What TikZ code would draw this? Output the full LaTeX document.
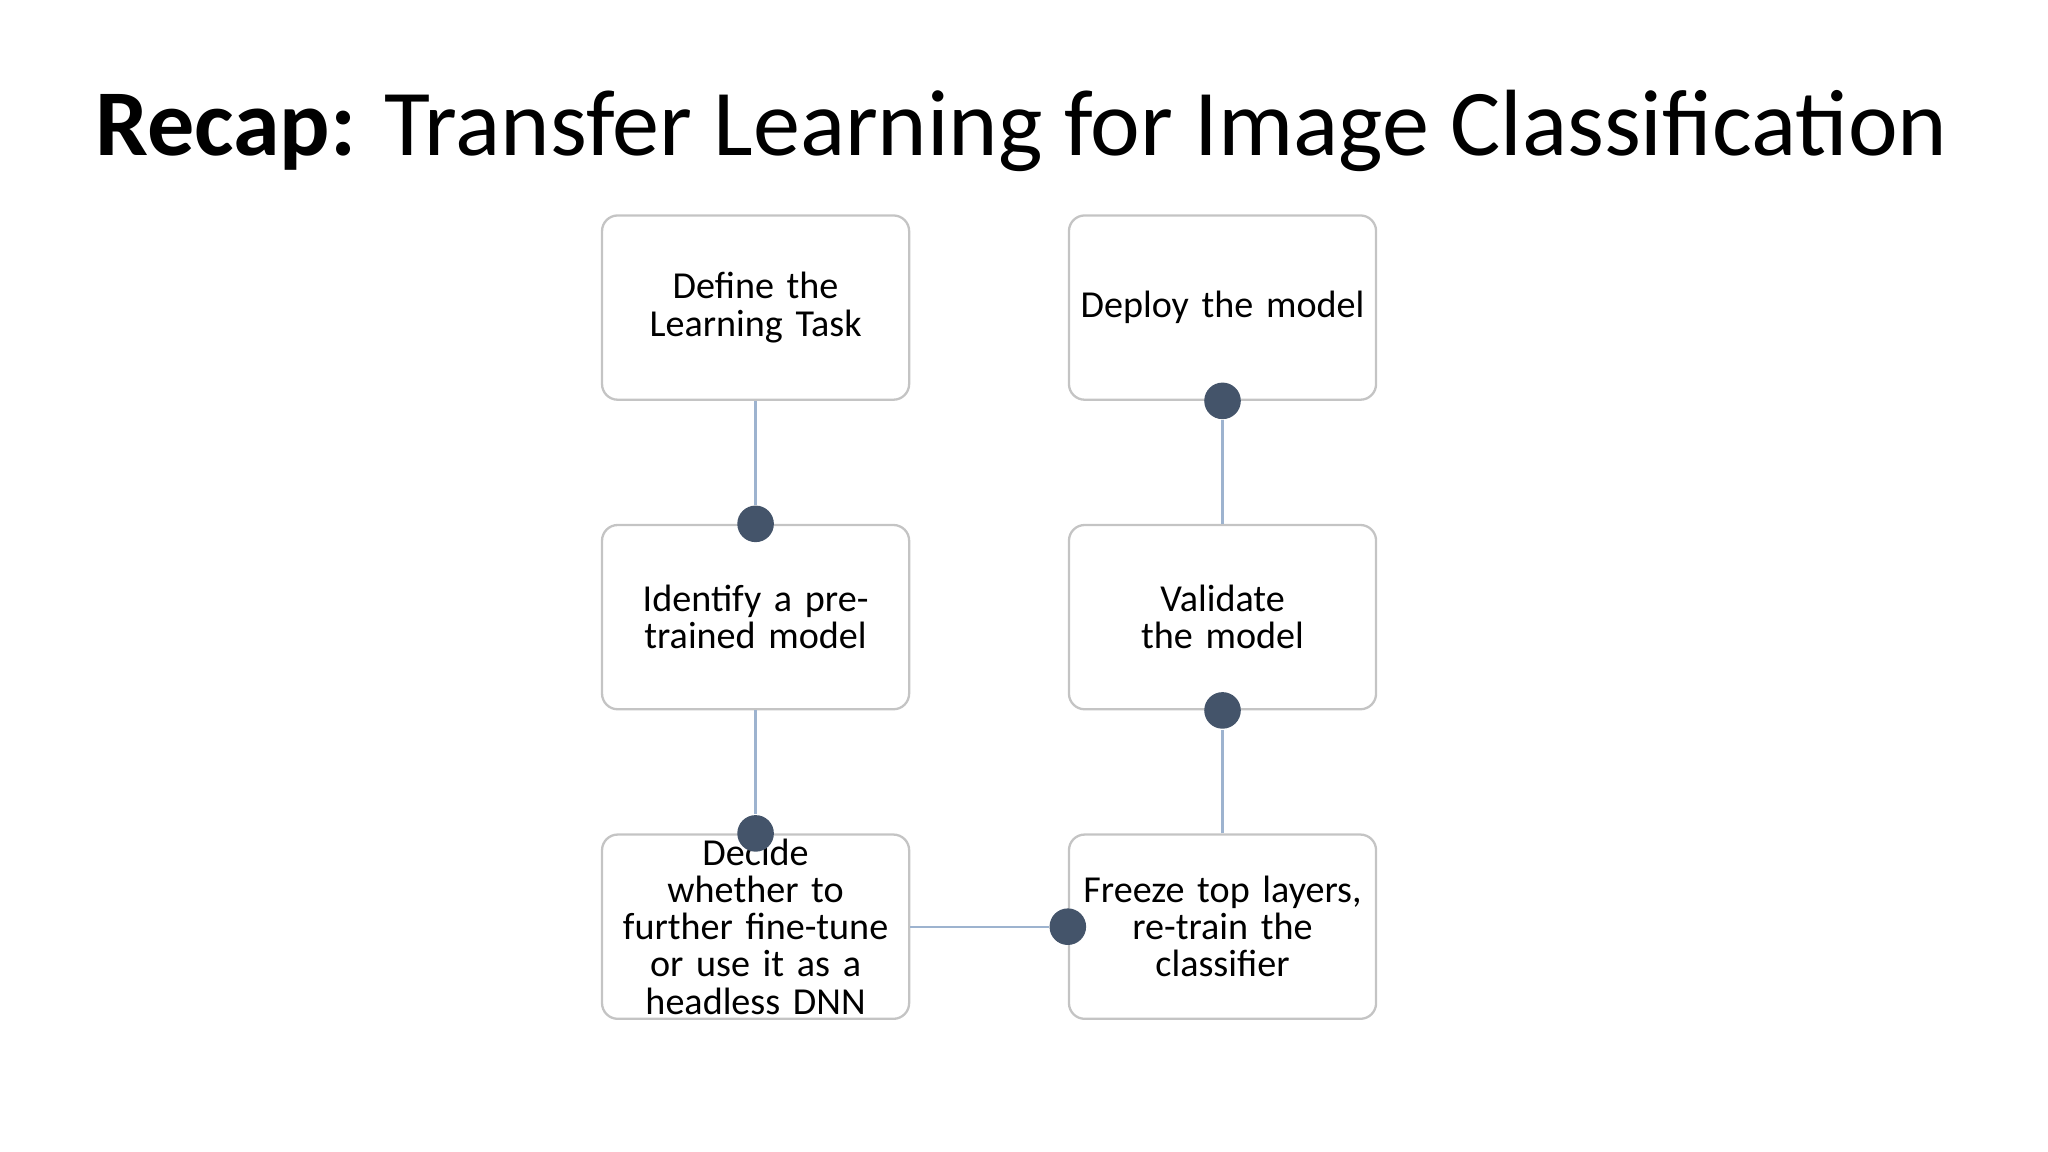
\documentclass[tikz,border=0pt]{standalone}
\usepackage{fontspec}
\setmainfont{Carlito}
\definecolor{dotc}{HTML}{44546A}
\definecolor{linec}{HTML}{9DB3CF}
\definecolor{boxc}{HTML}{C4C4C4}
\begin{document}
\begin{tikzpicture}[x=0.01cm,y=-0.01cm,
  stepbox/.style={draw=boxc,line width=0.5pt,rounded corners=0.12cm,minimum width=2.35cm,minimum height=1.41cm,align=center,text width=2.2cm,font=\fontsize{8.3}{8.1}\selectfont,inner sep=0pt},
  dotn/.style={circle,fill=dotc,minimum size=0.28cm,inner sep=0pt},
  conn/.style={draw=linec,line width=0.5pt}]
\useasboundingbox (0,0) rectangle (1568,882);
\node[font=\fontsize{20.5}{24}\selectfont] (title) at (782,100) {\textbf{Recap:} Transfer Learning for Image Classification};
\node[stepbox] (b1) at (578.5,235.5) {Define the\\Learning Task};
\node[stepbox] (b2) at (578.5,472.5) {Identify a pre-\\trained model};
\node[stepbox] (b3) at (578.5,709.5) {Decide whether to\\further fine-tune\\or use it as a\\headless DNN};
\node[stepbox] (b4) at (936,709.5) {Freeze top layers,\\re-train the\\classifier};
\node[stepbox] (b5) at (936,472.5) {Validate the model};
\node[stepbox] (b6) at (936,235.5) {Deploy the model};
\node[dotn] (d2) at (b2.north) {};
\node[dotn] (d3) at (b3.north) {};
\node[dotn] (d4) at (b4.west) {};
\node[dotn] (d5) at (b5.south) {};
\node[dotn] (d6) at (b6.south) {};
\draw[conn] (b1.south) -- (d2);
\draw[conn] (b2.south) -- (d3);
\draw[conn] (b3.east) -- (d4);
\draw[conn] (b4.north) -- (d5);
\draw[conn] (b5.north) -- (d6);
\end{tikzpicture}
\end{document}
